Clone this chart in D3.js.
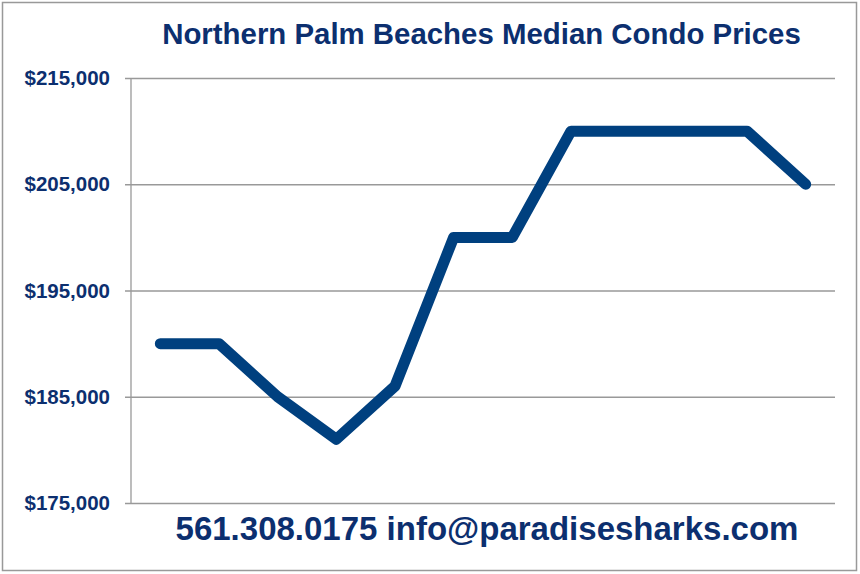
<!DOCTYPE html>
<html><head><meta charset="utf-8">
<script src="https://cdn.jsdelivr.net/npm/d3@7"></script>
<style>body{margin:0;background:#fff}svg{display:block}</style>
</head><body>
<script>
const months = ["1","2","3","4","5","6","7","8","9","10","11","12"];
const prices = [190000,190000,185000,181000,186000,200000,200000,210000,210000,210000,210000,205000];
const yTicks = [175000,185000,195000,205000,215000];
const title = "Northern Palm Beaches Median Condo Prices";
const footer = "561.308.0175 info@paradisesharks.com";

const W=860,H=574;
const svg=d3.select("body").append("svg").attr("width",W).attr("height",H);
const textColor="#0c2f6f", lineColor="#00407f";
const font="Liberation Sans, Arial, sans-serif";
svg.append("rect").attr("x",2.5).attr("y",2.5).attr("width",854).attr("height",568)
  .attr("fill","#fff").attr("stroke","#999").attr("stroke-width",1.5);

const x=d3.scalePoint().domain(months).range([131,835]).padding(0.5);
const y=d3.scaleLinear().domain([175000,215000]).range([503,78]);

const g=svg.append("g");
g.append("g").attr("transform","translate(131,0)")
 .call(d3.axisLeft(y).tickValues(yTicks).tickSize(-(835-131)).tickSizeOuter(0).tickFormat(d=>"$"+d3.format(",")(d)))
 .call(a=>a.select(".domain").remove())
 .call(a=>a.selectAll(".tick line").attr("stroke","#999").attr("stroke-width",1.3).attr("x1",-6))
 .call(a=>a.selectAll(".tick text").attr("x",-21).attr("fill",textColor)
   .style("font-family",font).style("font-weight","bold").style("font-size","20.5px"));
g.append("line").attr("x1",131).attr("x2",131).attr("y1",78).attr("y2",503).attr("stroke","#999").attr("stroke-width",1.3);

svg.append("path").datum(prices)
 .attr("d",d3.line().x((d,i)=>x(months[i])).y(d=>y(d)))
 .attr("fill","none").attr("stroke",lineColor).attr("stroke-width",11)
 .attr("stroke-linejoin","round").attr("stroke-linecap","round");

svg.append("text").attr("x",481.5).attr("y",44).attr("text-anchor","middle")
 .style("font-family",font).style("font-weight","bold").style("font-size","29.4px")
 .attr("fill",textColor).text(title);
svg.append("text").attr("x",487).attr("y",540).attr("text-anchor","middle")
 .style("font-family",font).style("font-weight","bold").style("font-size","33px")
 .attr("fill",textColor).text(footer);
</script>
</body></html>
